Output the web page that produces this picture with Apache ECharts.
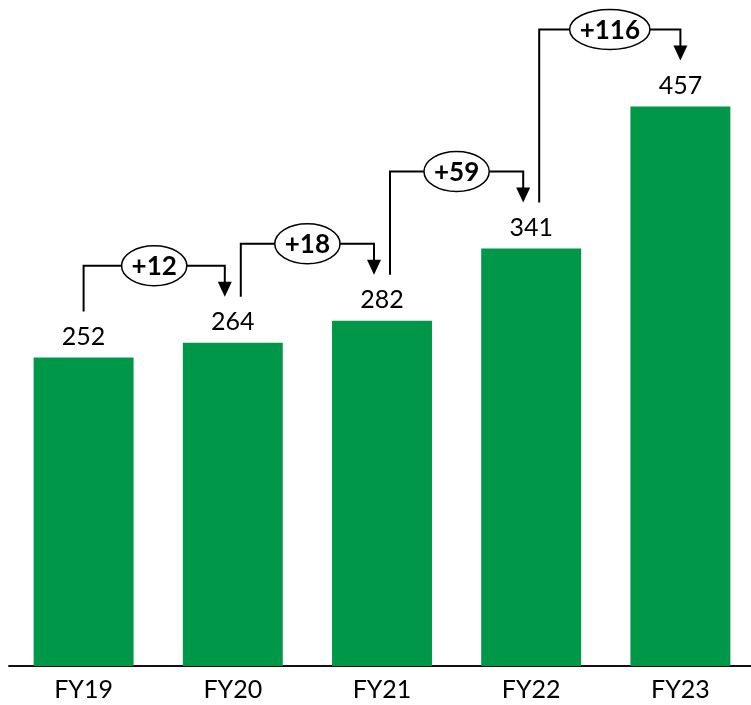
<!DOCTYPE html>
<html>
<head>
<meta charset="utf-8">
<style>
  html, body { margin: 0; padding: 0; background: #ffffff; overflow: hidden; }
  #chart { width: 760px; height: 705px; }
</style>
<script src="https://cdn.jsdelivr.net/npm/echarts@6/dist/echarts.min.js"></script>
</head>
<body>
<div id="chart"></div>
<script>
// Fiscal years and yearly totals
const categories = ['FY19', 'FY20', 'FY21', 'FY22', 'FY23'];
const totals = [252, 264, 282, 341, 457];
// Year-over-year increases shown in the callout bubbles
const changes = [12, 18, 59, 116];

const FONT = 'Lato, "Open Sans", sans-serif';
const BAR_COLOR = '#009848';

// Measure bubble text so each ellipse hugs its label
const measureCtx = document.createElement('canvas').getContext('2d');
function textWidth(txt, font) {
  measureCtx.font = font;
  return measureCtx.measureText(txt).width;
}

// Step connectors: [fromIndex, fromValue, toValue, change]
const connectorData = changes.map((c, i) => [i, totals[i], totals[i + 1], c]);

function renderConnector(params, api) {
  const i = api.value(0);
  const from = api.coord([i, api.value(1)]);
  const to = api.coord([i + 1, api.value(2)]);
  const last = categories.length - 1;
  const inset = 8;
  const x1 = from[0] + (i === 0 ? 0 : inset);
  const x2 = to[0] - (i + 1 === last ? 0 : inset);
  const yStart = from[1] - 46;
  const yTip = to[1] - 46;
  const yRun = yTip - 31;
  const headH = 15, headW = 7;
  const label = '+' + api.value(3);
  const bubbleFont = 'bold 26px ' + FONT;
  const rx = textWidth(label, bubbleFont) / 2 + 10;
  const cx = (x1 + x2) / 2;
  return {
    type: 'group',
    children: [
      {
        type: 'polyline',
        shape: { points: [[x1, yStart], [x1, yRun], [x2, yRun], [x2, yTip - headH + 1]] },
        style: { stroke: '#000', lineWidth: 2, fill: null }
      },
      {
        type: 'polygon',
        shape: { points: [[x2 - headW, yTip - headH], [x2 + headW, yTip - headH], [x2, yTip]] },
        style: { fill: '#000' }
      },
      {
        type: 'ellipse',
        shape: { cx: cx, cy: yRun, rx: rx, ry: 20 },
        style: { fill: '#fff', stroke: '#000', lineWidth: 1.5 }
      },
      {
        type: 'text',
        style: {
          text: label, x: cx, y: yRun + 1,
          align: 'center', verticalAlign: 'middle',
          font: bubbleFont, fill: '#000'
        }
      }
    ]
  };
}

const chart = echarts.init(document.getElementById('chart'), null, { renderer: 'canvas' });
chart.setOption({
  animation: false,
  grid: { left: 9, width: 746, top: 4.8, bottom: 39, containLabel: false },
  xAxis: {
    type: 'category',
    data: categories,
    axisLine: { show: true, lineStyle: { color: '#111', width: 2 } },
    axisTick: { show: false },
    axisLabel: { color: '#000', fontFamily: FONT, fontSize: 25, margin: 11 }
  },
  yAxis: {
    type: 'value',
    min: 0,
    max: 540,
    show: false,
    splitLine: { show: false }
  },
  series: [
    {
      type: 'bar',
      data: totals,
      barWidth: '67%',
      itemStyle: { color: BAR_COLOR },
      label: {
        show: true,
        position: 'top',
        distance: 8,
        color: '#000',
        fontFamily: FONT,
        fontSize: 25
      }
    },
    {
      type: 'custom',
      data: connectorData,
      renderItem: renderConnector,
      z: 5,
      silent: true
    }
  ]
});
</script>
</body>
</html>
